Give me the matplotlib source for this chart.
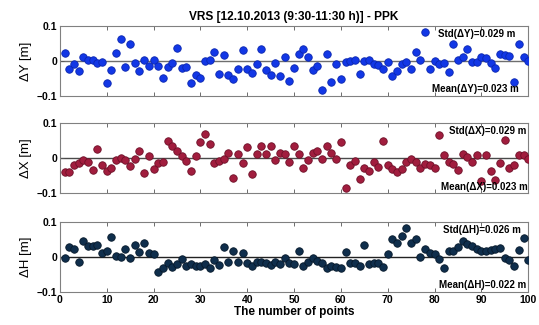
import numpy as np
import matplotlib
matplotlib.use("Agg")
import matplotlib.pyplot as plt

plt.rcParams['font.family'] = ['Liberation Sans', 'DejaVu Sans']

# point numbers and coordinate differences [m]
points = np.arange(1, 101)

dY = [0.022, -0.024, -0.009, -0.030, 0.010, 0.002, 0.003, -0.007, -0.003, -0.063,
      -0.026, 0.023, 0.062, -0.017, 0.048, -0.006, -0.029, 0.003, -0.015, 0.003,
      -0.014, -0.048, -0.016, -0.007, 0.037, -0.020, -0.018, -0.064, -0.040, -0.050,
      0.000, 0.003, 0.027, -0.038, 0.016, -0.040, -0.053, -0.024, 0.031, -0.023,
      -0.035, -0.009, 0.035, -0.026, -0.040, -0.007, -0.043, 0.010, -0.057, -0.019,
      0.020, 0.033, 0.012, -0.026, -0.014, -0.084, 0.020, -0.060, -0.010, -0.051,
      -0.004, 0.000, 0.002, -0.038, 0.000, 0.002, -0.009, -0.012, -0.023, -0.004,
      -0.043, -0.029, -0.008, -0.002, -0.023, 0.025, 0.002, 0.082, -0.024, 0.000,
      -0.009, -0.007, -0.033, 0.049, 0.003, 0.010, 0.033, -0.003, -0.003, 0.010,
      0.008, -0.005, -0.019, 0.020, 0.016, 0.014, -0.059, 0.048, 0.010, 0.000]

dX = [-0.040, -0.040, -0.019, -0.014, -0.004, -0.011, -0.034, 0.027, -0.019, -0.036,
      -0.029, -0.004, 0.000, -0.004, -0.023, -0.002, 0.019, -0.042, 0.005, -0.030,
      -0.015, -0.010, 0.049, 0.036, 0.021, 0.006, -0.007, -0.038, 0.005, 0.046,
      0.068, 0.039, -0.013, -0.009, -0.002, 0.015, -0.056, 0.011, -0.015, 0.032,
      -0.045, 0.013, 0.034, 0.013, 0.035, -0.006, 0.014, 0.011, -0.011, 0.034,
      0.011, -0.029, -0.004, 0.015, 0.021, -0.002, 0.036, 0.015, -0.002, 0.046,
      -0.085, -0.021, -0.008, -0.059, -0.029, -0.036, -0.011, -0.025, 0.048, -0.021,
      -0.030, -0.040, -0.032, -0.011, -0.003, -0.011, -0.027, -0.017, -0.021, -0.027,
      0.065, 0.008, -0.010, -0.017, -0.035, 0.011, 0.002, -0.011, 0.010, -0.065,
      0.010, -0.038, -0.063, -0.014, 0.052, -0.027, -0.019, 0.010, 0.010, -0.002]

dH = [-0.004, 0.027, 0.023, -0.014, 0.045, 0.032, 0.030, 0.035, 0.011, 0.016,
      0.058, 0.003, -0.001, 0.022, -0.004, 0.035, 0.014, 0.039, 0.010, 0.008,
      -0.043, -0.031, -0.016, -0.029, -0.021, -0.007, -0.027, -0.021, -0.025, -0.025,
      -0.021, -0.033, -0.010, -0.023, 0.027, -0.014, 0.017, -0.014, 0.012, -0.018,
      -0.027, -0.014, -0.014, -0.018, -0.024, -0.014, -0.020, -0.004, -0.016, -0.021,
      0.018, -0.025, -0.014, -0.004, -0.012, -0.018, -0.033, -0.025, -0.029, -0.033,
      0.013, -0.016, -0.018, -0.027, 0.035, -0.021, -0.018, -0.016, -0.029, 0.008,
      0.051, 0.040, 0.061, 0.083, 0.040, 0.052, 0.000, 0.023, 0.010, 0.008,
      -0.006, -0.031, 0.018, 0.017, 0.028, 0.046, 0.038, 0.031, 0.024, 0.018,
      0.017, 0.020, 0.024, 0.026, -0.003, -0.008, -0.025, 0.021, 0.055, -0.008]

panels = [
    (dY, '\u0394Y [m]', '#1237e6', '#0a26b0', '#6e6e6e',
     'Std(\u0394Y)=0.029 m', 'Mean(\u0394Y)=0.023 m', 0.972, 0.979),
    (dX, '\u0394X [m]', '#a11d3e', '#6e1028', '#4a4a4a',
     'Std(\u0394X)=0.029 m', 'Mean(\u0394X)=0.023 m', 0.997, 0.999),
    (dH, '\u0394H [m]', '#0f2e4c', '#06182a', '#222222',
     'Std(\u0394H)=0.026 m', 'Mean(\u0394H)=0.022 m', 0.985, 0.995),
]

fig = plt.figure(figsize=(5.39, 3.25), dpi=100)
bottoms = [0.705, 0.406, 0.102]
axes = []
for i, (vals, ylab, fc, ec, lc, std_txt, mean_txt, xs, xm) in enumerate(panels):
    ax = fig.add_axes([0.111, bottoms[i], 0.869, 0.215])
    ax.axhline(0, color=lc, linewidth=1.0, zorder=1)
    ax.scatter(points, vals, s=29, c=fc, edgecolors=ec, linewidths=0.6, zorder=3)
    ax.set_xlim(0, 100)
    ax.set_ylim(-0.1, 0.1)
    ax.set_xticks(np.arange(0, 101, 10))
    ax.set_yticks([-0.1, 0, 0.1])
    ax.set_yticklabels(['\u22120.1', '0', '0.1'], fontweight='bold', fontsize=7.5)
    ax.set_ylabel(ylab, fontsize=9.5, labelpad=3)
    ax.tick_params(direction='in', top=True, right=True, length=3, width=0.6,
                   color='#555555', pad=2)
    for sp in ax.spines.values():
        sp.set_color('#808080')
        sp.set_linewidth(0.8)
    ax.text(xs, 0.96, std_txt, transform=ax.transAxes, ha='right', va='top',
            fontsize=7, fontweight='bold', zorder=4)
    ax.text(xm, 0.02, mean_txt, transform=ax.transAxes, ha='right', va='bottom',
            fontsize=7, fontweight='bold', zorder=4)
    if i < 2:
        ax.set_xticklabels([])
    else:
        ax.set_xticklabels([str(t) for t in range(0, 101, 10)],
                           fontweight='bold', fontsize=7.5)
        ax.set_xlabel('The number of points', fontweight='bold', fontsize=8.5,
                      labelpad=1)
    axes.append(ax)

axes[0].set_title('VRS [12.10.2013 (9:30-11:30 h)] - PPK', fontweight='bold',
                  fontsize=8.6, pad=4)

fig.savefig('out.png', dpi=100)
